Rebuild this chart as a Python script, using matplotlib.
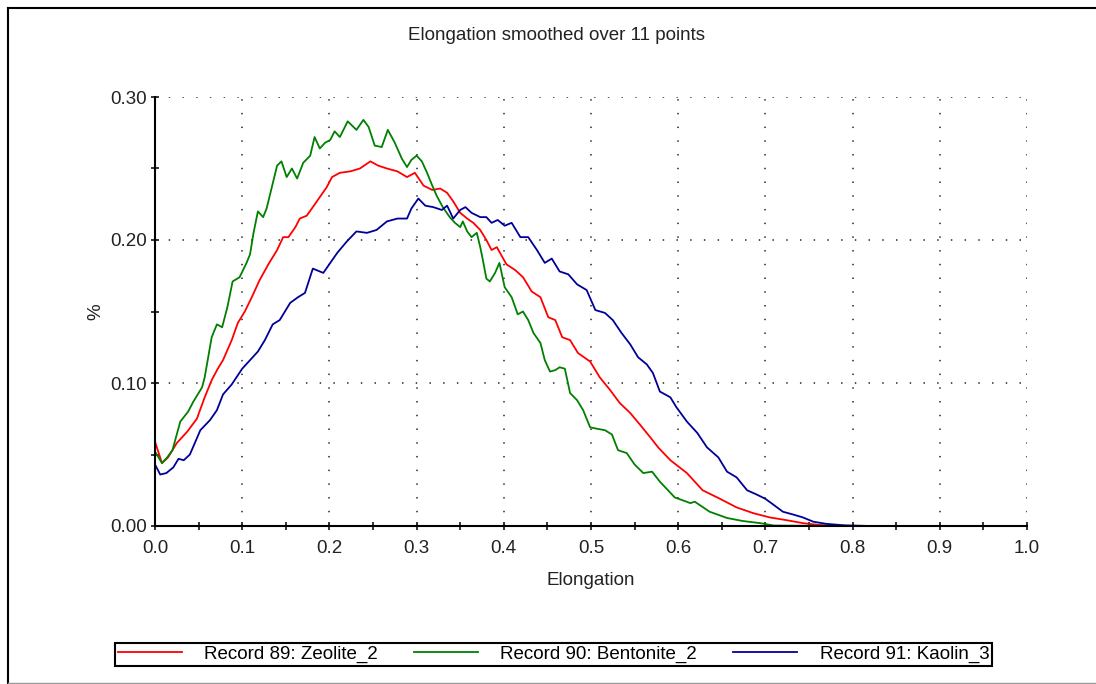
import matplotlib
matplotlib.use("Agg")
import matplotlib.pyplot as plt
from matplotlib.lines import Line2D
from matplotlib.ticker import MultipleLocator

plt.rcParams['font.family'] = ['Liberation Sans', 'DejaVu Sans']

# Record 89: Zeolite_2
zeo_x = [0.0, 0.008, 0.015, 0.025, 0.037, 0.048, 0.057, 0.065, 0.072, 0.078, 0.088, 0.095, 0.103, 0.111,
         0.120, 0.130, 0.140, 0.147, 0.153, 0.161, 0.166, 0.174, 0.181, 0.189, 0.197, 0.203, 0.212, 0.224,
         0.235, 0.247, 0.256, 0.266, 0.278, 0.289, 0.298, 0.308, 0.318, 0.327, 0.335, 0.342, 0.350, 0.358,
         0.365, 0.373, 0.380, 0.386, 0.392, 0.403, 0.413, 0.422, 0.432, 0.442, 0.451, 0.459, 0.467, 0.476,
         0.485, 0.499, 0.510, 0.522, 0.533, 0.545, 0.556, 0.568, 0.577, 0.591, 0.610, 0.628, 0.648, 0.667,
         0.686, 0.705, 0.725, 0.743, 0.762, 0.78, 0.80, 0.9, 1.0]
zeo_y = [0.059, 0.044, 0.048, 0.058, 0.066, 0.075, 0.090, 0.102, 0.110, 0.116, 0.130, 0.142, 0.150, 0.160,
         0.172, 0.183, 0.193, 0.202, 0.202, 0.209, 0.215, 0.217, 0.223, 0.230, 0.237, 0.244, 0.247, 0.248,
         0.250, 0.255, 0.252, 0.250, 0.248, 0.244, 0.247, 0.238, 0.235, 0.236, 0.233, 0.227, 0.219, 0.215,
         0.212, 0.207, 0.200, 0.193, 0.195, 0.183, 0.179, 0.174, 0.164, 0.160, 0.146, 0.144, 0.132, 0.130,
         0.121, 0.115, 0.104, 0.095, 0.086, 0.079, 0.071, 0.062, 0.055, 0.046, 0.037, 0.025, 0.019, 0.013,
         0.009, 0.006, 0.004, 0.002, 0.0007, 0.0002, 0.0, 0.0, 0.0]

# Record 90: Bentonite_2
ben_x = [0.0, 0.008, 0.014, 0.020, 0.029, 0.038, 0.044, 0.054, 0.057, 0.065, 0.071, 0.077, 0.083, 0.089,
         0.097, 0.105, 0.109, 0.113, 0.118, 0.124, 0.128, 0.134, 0.140, 0.145, 0.151, 0.157, 0.163, 0.170,
         0.178, 0.183, 0.189, 0.195, 0.201, 0.206, 0.212, 0.221, 0.231, 0.239, 0.245, 0.252, 0.260, 0.267,
         0.275, 0.283, 0.289, 0.294, 0.300, 0.306, 0.312, 0.318, 0.323, 0.330, 0.338, 0.344, 0.350, 0.353,
         0.358, 0.363, 0.369, 0.373, 0.376, 0.380, 0.384, 0.390, 0.395, 0.401, 0.409, 0.416, 0.422, 0.428,
         0.434, 0.442, 0.447, 0.453, 0.459, 0.464, 0.470, 0.476, 0.484, 0.491, 0.499, 0.507, 0.516, 0.524,
         0.531, 0.541, 0.550, 0.560, 0.570, 0.579, 0.596, 0.614, 0.619, 0.636, 0.656, 0.674, 0.694, 0.71,
         0.8, 0.9, 1.0]
ben_y = [0.052, 0.044, 0.048, 0.053, 0.073, 0.080, 0.087, 0.097, 0.104, 0.132, 0.141, 0.139, 0.153, 0.171,
         0.174, 0.184, 0.190, 0.205, 0.220, 0.216, 0.222, 0.237, 0.252, 0.255, 0.244, 0.250, 0.243, 0.254,
         0.259, 0.272, 0.264, 0.268, 0.270, 0.276, 0.272, 0.283, 0.277, 0.284, 0.279, 0.266, 0.265, 0.277,
         0.268, 0.257, 0.251, 0.256, 0.259, 0.255, 0.247, 0.238, 0.231, 0.223, 0.216, 0.212, 0.209, 0.213,
         0.206, 0.202, 0.205, 0.195, 0.186, 0.173, 0.171, 0.177, 0.184, 0.167, 0.160, 0.148, 0.150, 0.144,
         0.135, 0.128, 0.116, 0.108, 0.109, 0.111, 0.110, 0.093, 0.088, 0.081, 0.069, 0.068, 0.067, 0.064,
         0.053, 0.051, 0.043, 0.037, 0.038, 0.031, 0.020, 0.016, 0.017, 0.010, 0.0056, 0.0035, 0.002, 0.0003,
         0.0, 0.0, 0.0]

# Record 91: Kaolin_3
kao_x = [0.0, 0.006, 0.013, 0.021, 0.027, 0.033, 0.040, 0.052, 0.063, 0.071, 0.078, 0.088, 0.100, 0.109,
         0.118, 0.126, 0.135, 0.143, 0.155, 0.164, 0.172, 0.181, 0.193, 0.201, 0.209, 0.220, 0.231, 0.243,
         0.254, 0.266, 0.278, 0.289, 0.294, 0.302, 0.310, 0.319, 0.329, 0.335, 0.342, 0.350, 0.356, 0.363,
         0.373, 0.380, 0.386, 0.393, 0.401, 0.409, 0.419, 0.428, 0.438, 0.447, 0.455, 0.464, 0.474, 0.484,
         0.495, 0.505, 0.516, 0.525, 0.535, 0.545, 0.554, 0.564, 0.571, 0.579, 0.591, 0.598, 0.610, 0.622,
         0.633, 0.646, 0.656, 0.667, 0.679, 0.690, 0.700, 0.709, 0.720, 0.732, 0.743, 0.755, 0.770, 0.79,
         0.82, 0.9, 1.0]
kao_y = [0.043, 0.036, 0.037, 0.041, 0.047, 0.046, 0.050, 0.067, 0.074, 0.081, 0.092, 0.099, 0.110, 0.116,
         0.122, 0.130, 0.141, 0.144, 0.156, 0.160, 0.163, 0.180, 0.177, 0.184, 0.191, 0.199, 0.206, 0.205,
         0.207, 0.213, 0.215, 0.215, 0.222, 0.229, 0.224, 0.223, 0.221, 0.224, 0.215, 0.221, 0.223, 0.219,
         0.216, 0.216, 0.212, 0.214, 0.210, 0.212, 0.202, 0.202, 0.193, 0.184, 0.187, 0.178, 0.176, 0.169,
         0.165, 0.151, 0.149, 0.144, 0.135, 0.127, 0.118, 0.113, 0.107, 0.094, 0.090, 0.083, 0.073, 0.065,
         0.055, 0.048, 0.038, 0.034, 0.025, 0.022, 0.019, 0.015, 0.010, 0.008, 0.006, 0.003, 0.0015, 0.0005,
         0.0, 0.0, 0.0]

labels = ['Record 89: Zeolite_2', 'Record 90: Bentonite_2', 'Record 91: Kaolin_3']
colors = ['#ff0000', '#008000', '#000099']

fig = plt.figure(figsize=(10.96, 6.84), dpi=100)
ax = fig.add_axes([155 / 1096, 1 - 526 / 684, 872 / 1096, 429 / 684])

ax.plot(zeo_x, zeo_y, color=colors[0], lw=1.3, label=labels[0])
ax.plot(ben_x, ben_y, color=colors[1], lw=1.3, label=labels[1])
ax.plot(kao_x, kao_y, color=colors[2], lw=1.3, label=labels[2])

ax.set_xlim(0, 1.0)
ax.set_ylim(0, 0.30)
ax.xaxis.set_major_locator(MultipleLocator(0.1))
ax.xaxis.set_minor_locator(MultipleLocator(0.05))
ax.yaxis.set_major_locator(MultipleLocator(0.1))
ax.yaxis.set_minor_locator(MultipleLocator(0.05))
ax.xaxis.set_major_formatter(lambda v, p: f'{v:.1f}')
ax.yaxis.set_major_formatter(lambda v, p: f'{v:.2f}')

# dotted grid at the major ticks
ax.grid(True, which='major', color='#444444', lw=1.3, linestyle=(0, (0.8, 6.8)))

for s in ['top', 'right']:
    ax.spines[s].set_visible(False)
for s in ['left', 'bottom']:
    ax.spines[s].set_linewidth(1.5)

ax.tick_params(which='both', direction='inout', length=6, width=1.1, labelsize=13.5, colors='black',
               labelcolor='#222222')
ax.tick_params(axis='x', pad=7)
ax.tick_params(axis='y', pad=3)

fig.text(556 / 1096, 1 - 35 / 684, 'Elongation smoothed over 11 points', fontsize=13.5,
         ha='center', va='center', color='#222222')
ax.set_xlabel('Elongation', fontsize=13.5, labelpad=11, color='#222222')
ax.set_ylabel('%', fontsize=13.5, labelpad=4, color='#222222')

fig.legend(loc='center', ncol=3, mode='expand', fontsize=13.5,
           bbox_to_anchor=(115 / 1096, 16 / 684, 877 / 1096, 27 / 684),
           handlelength=3.4, handletextpad=1.2, borderpad=0.15, borderaxespad=0,
           fancybox=False, framealpha=1, edgecolor='black')
fig.legends[0].get_frame().set_linewidth(1.5)

# outer page frame
fig.add_artist(Line2D([8 / 1096, 8 / 1096], [0, 1 - 8 / 684], color='black', lw=1.5, transform=fig.transFigure))
fig.add_artist(Line2D([8 / 1096, 1], [1 - 8 / 684, 1 - 8 / 684], color='black', lw=1.5, transform=fig.transFigure))
fig.add_artist(Line2D([8 / 1096, 1], [1.5 / 684, 1.5 / 684], color='#999999', lw=1.0, transform=fig.transFigure))

fig.savefig('out.png', dpi=100)
